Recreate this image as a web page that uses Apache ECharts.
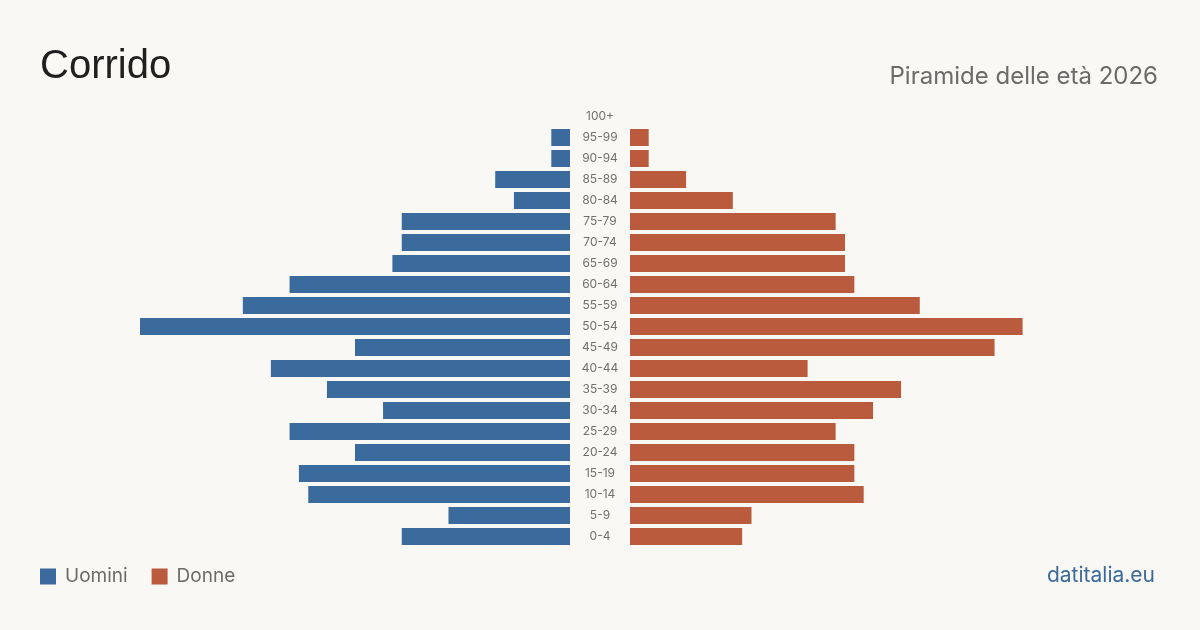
<!DOCTYPE html>
<html><head><meta charset="utf-8">
<script src="https://cdn.jsdelivr.net/npm/echarts@6/dist/echarts.min.js"></script>
<style>html,body{margin:0;padding:0;background:#f9f8f4;}#c{width:1200px;height:630px;}</style>
</head><body><div id="c"></div>
<script>
const categories = ['0-4','5-9','10-14','15-19','20-24','25-29','30-34','35-39','40-44','45-49','50-54','55-59','60-64','65-69','70-74','75-79','80-84','85-89','90-94','95-99','100+'];
const men =   [18,13,28,29,23,30,20,26,32,23,46,35,30,19,18,18,6,8,2,2,0];
const women = [12,13,25,24,24,22,26,29,19,39,42,31,24,23,23,22,11,6,2,2,0];
const maxVal = 46;
const FONT = 'Inter, "Noto Sans", sans-serif';
const chart = echarts.init(document.getElementById('c'));
chart.setOption({
  backgroundColor: '#f9f8f4',
  animation: false,
  textStyle: {fontFamily: FONT},
  title: [
    {text: 'Corrido', left: 40, top: 47, padding: 0, textStyle: {fontFamily: '"Liberation Sans", Arial, sans-serif', fontSize: 40, fontWeight: 'normal', color: '#1f1f1f'}},
    {text: 'Piramide delle età 2026', right: 42, top: 65, padding: 0, textStyle: {fontFamily: FONT, fontSize: 24, fontWeight: 'normal', color: '#6b6b6b'}},
    {text: 'datitalia.eu', right: 45, top: 565, padding: 0, textStyle: {fontFamily: FONT, fontSize: 21, fontWeight: 'normal', color: '#3a6b9c'}}
  ],
  legend: {
    left: 40, top: 567, padding: 0, itemWidth: 16, itemHeight: 16, itemGap: 24,
    icon: 'rect',
    textStyle: {fontFamily: FONT, fontSize: 19, color: '#6b6b6b', padding: [0,0,0,4]},
    data: ['Uomini','Donne']
  },
  grid: [
    {left: 140, width: 430, top: 106, height: 441},
    {left: 630, width: 430, top: 106, height: 441}
  ],
  xAxis: [
    {gridIndex: 0, type: 'value', min: 0, max: maxVal, inverse: true, show: false},
    {gridIndex: 1, type: 'value', min: 0, max: maxVal, show: false}
  ],
  yAxis: [
    {gridIndex: 0, type: 'category', data: categories, position: 'right',
     axisLine: {show: false}, axisTick: {show: false},
     axisLabel: {margin: 30, align: 'center', fontFamily: FONT, fontSize: 12, color: '#707070', padding: [2,0,0,0]}},
    {gridIndex: 1, type: 'category', data: categories, show: false}
  ],
  series: [
    {name: 'Uomini', type: 'bar', xAxisIndex: 0, yAxisIndex: 0, data: men, barWidth: 17, itemStyle: {color: '#3a6b9c'}},
    {name: 'Donne', type: 'bar', xAxisIndex: 1, yAxisIndex: 1, data: women, barWidth: 17, itemStyle: {color: '#b95b3c'}}
  ]
});
</script></body></html>
